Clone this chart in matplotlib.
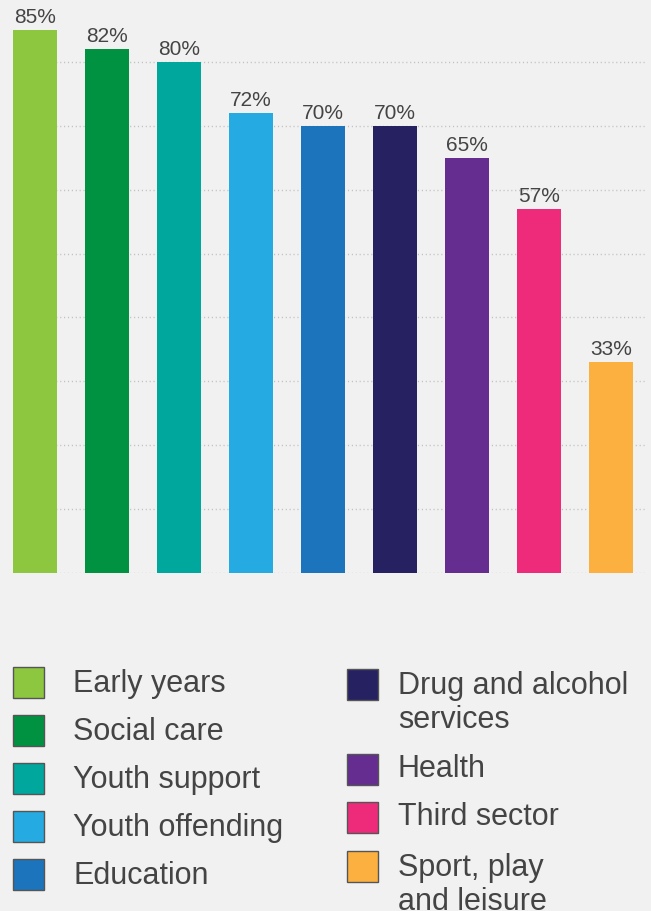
import matplotlib.pyplot as plt
from matplotlib.patches import Rectangle

plt.rcParams['font.family'] = ['Liberation Sans', 'DejaVu Sans']

# data
categories = ["Early years", "Social care", "Youth support", "Youth offending",
              "Education", "Drug and alcohol\nservices", "Health", "Third sector",
              "Sport, play\nand leisure"]
values = [85, 82, 80, 72, 70, 70, 65, 57, 33]
colors = ["#8DC63F", "#009240", "#00A79D", "#25AAE1", "#1C75BC",
          "#262262", "#662D91", "#EE2A7B", "#FBB040"]

BG = "#f1f1f1"
TXT = "#444444"

fig = plt.figure(figsize=(6.51, 9.11), dpi=100)
fig.patch.set_facecolor(BG)

# --- bar chart ---
ax = fig.add_axes([13 / 651, 1 - 573 / 911, 632 / 651, 573 / 911])
ax.set_facecolor(BG)
x = list(range(len(values)))
ax.bar(x, values, width=44 / 72, color=colors, zorder=3)
for xi, v in zip(x, values):
    ax.annotate(f"{v}%", (xi, v), xytext=(0, 2), textcoords="offset points",
                ha="center", va="bottom", fontsize=15, color=TXT)

for g in range(0, 90, 10):
    ax.axhline(g, color="#c0c0c0", lw=1.0, linestyle=(0, (0.8, 2.0)), zorder=1)

ax.set_xlim(-22 / 72, (645 - 35) / 72)
ax.set_ylim(0, 573 / (543 / 85))
ax.axis("off")

# --- legend, drawn in pixel coordinates ---
leg = fig.add_axes([0, 0, 1, 1], zorder=-1)
leg.set_xlim(0, 651)
leg.set_ylim(911, 0)
leg.axis("off")

left_tops = [667, 715, 763, 811, 859]
right_tops = [669, 754, 802, 851]
positions = ([(13, t, 73, t + 25) for t in left_tops]
             + [(347, t, 398, t + 23) for t in right_tops])
for (sx, top, tx, base), label, c in zip(positions, categories, colors):
    leg.add_patch(Rectangle((sx, top), 31, 31, facecolor=c, edgecolor="#555555", lw=1.0))
    nlines = label.count("\n")
    # baseline of the last line
    leg.text(tx, base + 36 * nlines, label, fontsize=22, color=TXT,
             va="baseline", ha="left", linespacing=1.18)

fig.savefig("out.png", dpi=100, facecolor=BG)
